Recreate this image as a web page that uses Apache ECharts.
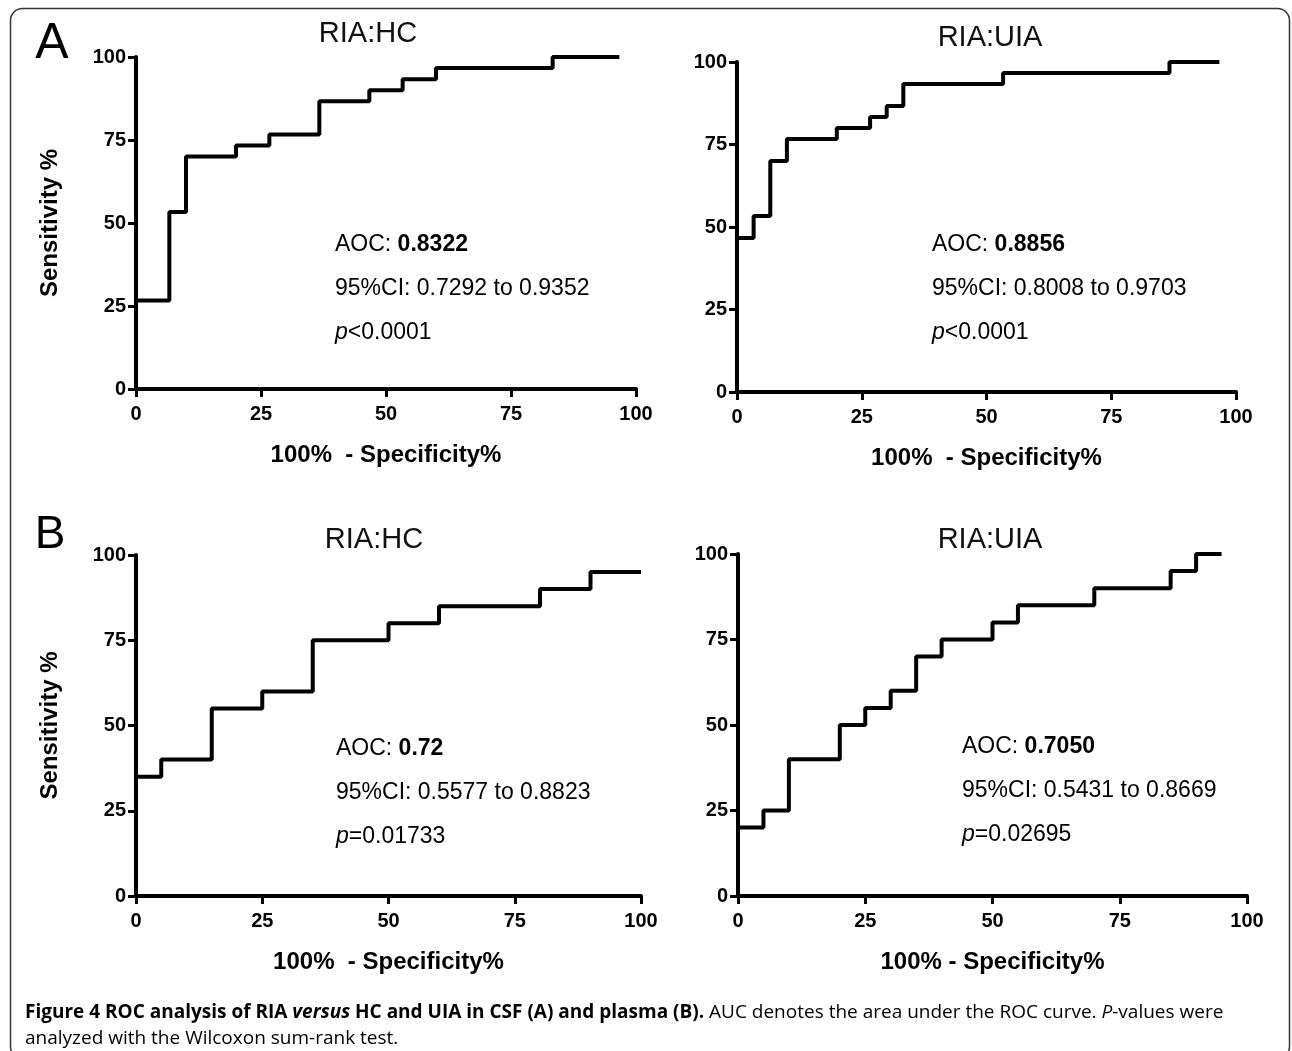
<!DOCTYPE html>
<html>
<head>
<meta charset="utf-8">
<script src="https://cdn.jsdelivr.net/npm/echarts@6/dist/echarts.min.js"></script>
<style>
html,body{margin:0;padding:0;background:#fff;}
#chart{width:1292px;height:1051px;}
</style>
</head>
<body>
<div id="chart"></div>
<script>
// ---- data ----
var xTicks = [0, 25, 50, 75, 100];
var yTicks = [0, 25, 50, 75, 100];

var panelTitles = ['RIA:HC', 'RIA:UIA', 'RIA:HC', 'RIA:UIA'];

// A: CSF
var csfHcFpr = [0, 6.67, 10, 20, 26.67, 36.67, 46.67, 53.33, 60, 83.33, 96.67];
var csfHcTpr = [26.67, 53.33, 70, 73.33, 76.67, 86.67, 90, 93.33, 96.67, 100, 100];

var csfUiaFpr = [0, 3.33, 6.67, 10, 20, 26.67, 30, 33.33, 53.33, 86.67, 96.67];
var csfUiaTpr = [46.67, 53.33, 70, 76.67, 80, 83.33, 86.67, 93.33, 96.67, 100, 100];

// B: plasma
var plasmaHcFpr = [0, 5, 15, 25, 35, 50, 60, 80, 90, 100];
var plasmaHcTpr = [35, 40, 55, 60, 75, 80, 85, 90, 95, 95];

var plasmaUiaFpr = [0, 5, 10, 20, 25, 30, 35, 40, 50, 55, 70, 85, 90, 95];
var plasmaUiaTpr = [20, 25, 40, 50, 55, 60, 70, 75, 80, 85, 90, 95, 100, 100];

var aocValues = ['0.8322', '0.8856', '0.72', '0.7050'];
var ciTexts = ['0.7292 to 0.9352', '0.8008 to 0.9703', '0.5577 to 0.8823', '0.5431 to 0.8669'];
var pTexts = ['<0.0001', '<0.0001', '=0.01733', '=0.02695'];
var xNames = ['100%  - Specificity%', '100%  - Specificity%', '100%  - Specificity%', '100% - Specificity%'];

// ---- layout ----
var grids = [
  {left: 136, top: 57, width: 500, height: 332},
  {left: 737, top: 62, width: 499, height: 330},
  {left: 136, top: 555, width: 505, height: 341},
  {left: 738, top: 554, width: 509, height: 342}
];
var titlePos = [[368, 34], [990, 38], [374, 540], [990, 540]];
var notePos = [[335, 245, 289, 333], [932, 245, 289, 333], [336, 749, 793, 837], [962, 747, 791, 835]];

var FONT = '"Liberation Sans", Arial, Helvetica, sans-serif';

function zip(a, b) { return a.map(function (v, i) { return [v, b[i]]; }); }
var curves = [zip(csfHcFpr, csfHcTpr), zip(csfUiaFpr, csfUiaTpr), zip(plasmaHcFpr, plasmaHcTpr), zip(plasmaUiaFpr, plasmaUiaTpr)];

var xAxes = [], yAxes = [], series = [], graphics = [];
grids.forEach(function (g, i) {
  xAxes.push({
    type: 'value', gridIndex: i, min: xTicks[0], max: xTicks[xTicks.length - 1], interval: 25,
    name: xNames[i], nameLocation: 'middle', nameGap: 54,
    nameTextStyle: {fontFamily: FONT, fontWeight: 'bold', fontSize: 24, color: '#000'},
    axisLine: {show: true, onZero: false, lineStyle: {color: '#000', width: 4}},
    axisTick: {show: true, length: 8, lineStyle: {color: '#000', width: 3}},
    axisLabel: {show: true, margin: 15, fontFamily: FONT, fontWeight: 'bold', fontSize: 20, color: '#000'},
    splitLine: {show: false}
  });
  yAxes.push({
    type: 'value', gridIndex: i, min: yTicks[0], max: yTicks[yTicks.length - 1], interval: 25,
    name: (i % 2 === 0) ? 'Sensitivity %' : '', nameLocation: 'middle', nameGap: 74,
    nameTextStyle: {fontFamily: FONT, fontWeight: 'bold', fontSize: 24, color: '#000'},
    axisLine: {show: true, onZero: false, lineStyle: {color: '#000', width: 4}},
    axisTick: {show: true, length: 8, lineStyle: {color: '#000', width: 3}},
    axisLabel: {show: true, margin: 10, fontFamily: FONT, fontWeight: 'bold', fontSize: 20, color: '#000'},
    splitLine: {show: false}
  });
  series.push({
    type: 'line', xAxisIndex: i, yAxisIndex: i, data: curves[i], step: 'end',
    showSymbol: false, symbol: 'none', animation: false,
    lineStyle: {color: '#000', width: 4}
  });
  graphics.push({
    type: 'text', x: titlePos[i][0], y: titlePos[i][1],
    style: {text: panelTitles[i], font: 'normal 29px ' + FONT, fill: '#111',
      align: 'center', verticalAlign: 'middle', textAlign: 'center', textVerticalAlign: 'middle'}
  });
  var np = notePos[i];
  var rich = {
    n: {fontFamily: FONT, fontSize: 23, color: '#111'},
    b: {fontFamily: FONT, fontSize: 23, fontWeight: 'bold', color: '#111'},
    it: {fontFamily: FONT, fontSize: 23, fontStyle: 'italic', color: '#111'}
  };
  graphics.push({type: 'text', x: np[0], y: np[1],
    style: {text: '{n|AOC: }{b|' + aocValues[i] + '}', rich: rich, verticalAlign: 'middle', textVerticalAlign: 'middle'}});
  graphics.push({type: 'text', x: np[0], y: np[2],
    style: {text: '{n|95%CI: ' + ciTexts[i] + '}', rich: rich, verticalAlign: 'middle', textVerticalAlign: 'middle'}});
  graphics.push({type: 'text', x: np[0], y: np[3],
    style: {text: '{it|p}{n|' + pTexts[i] + '}', rich: rich, verticalAlign: 'middle', textVerticalAlign: 'middle'}});
});

// panel letters
graphics.push({type: 'text', x: 52, y: 44, style: {text: 'A', font: 'normal 50px ' + FONT, fill: '#000',
  align: 'center', verticalAlign: 'middle', textAlign: 'center', textVerticalAlign: 'middle'}});
graphics.push({type: 'text', x: 50, y: 535, style: {text: 'B', font: 'normal 46px ' + FONT, fill: '#000',
  align: 'center', verticalAlign: 'middle', textAlign: 'center', textVerticalAlign: 'middle'}});

// border
graphics.push({type: 'rect', shape: {x: 10.5, y: 8.5, width: 1279, height: 1050, r: 12},
  style: {fill: 'none', stroke: '#333', lineWidth: 1.5}, z: -1});

// caption
var CAP = '"Open Sans", "Noto Sans", sans-serif';
var capRich = {
  b: {fontFamily: CAP, fontSize: 19, fontWeight: 'bold', color: '#333'},
  bi: {fontFamily: CAP, fontSize: 19, fontWeight: 'bold', fontStyle: 'italic', color: '#333'},
  n: {fontFamily: CAP, fontSize: 19, color: '#555'},
  i: {fontFamily: CAP, fontSize: 19, fontStyle: 'italic', color: '#555'}
};
graphics.push({type: 'text', x: 25, y: 1013, style: {
  text: '{b|Figure 4 ROC analysis of RIA }{bi|versus}{b| HC and UIA in CSF (A) and plasma (B).}{n| AUC denotes the area under the ROC curve. }{i|P}{n|-values were}',
  rich: capRich, verticalAlign: 'middle', textVerticalAlign: 'middle'}});
graphics.push({type: 'text', x: 25, y: 1039, style: {
  text: '{n|analyzed with the Wilcoxon sum-rank test.}',
  rich: capRich, verticalAlign: 'middle', textVerticalAlign: 'middle'}});

var chart = echarts.init(document.getElementById('chart'), null, {renderer: 'canvas'});
chart.setOption({
  animation: false,
  backgroundColor: '#fff',
  grid: grids.map(function (g) { return Object.assign({containLabel: false}, g); }),
  xAxis: xAxes,
  yAxis: yAxes,
  series: series,
  graphic: graphics
});
</script>
</body>
</html>
